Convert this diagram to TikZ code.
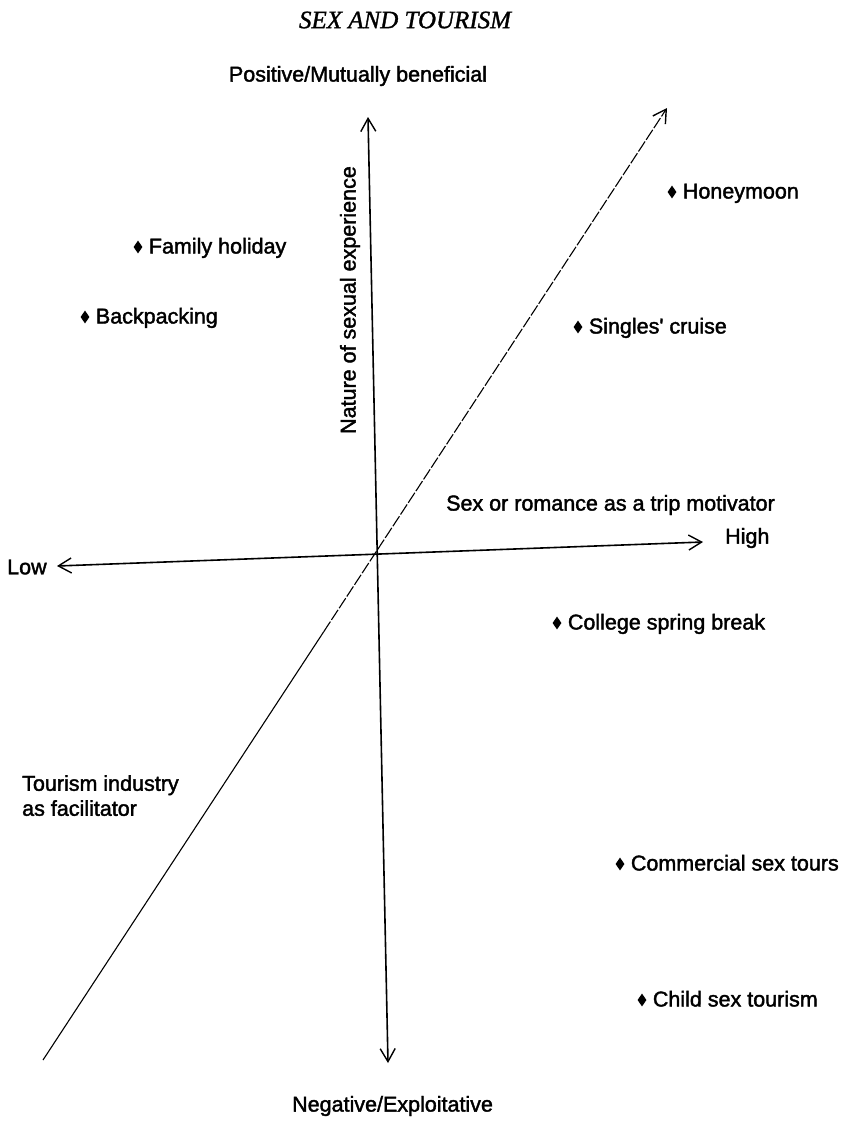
\documentclass[tikz,border=0pt]{standalone}
\usepackage{fontspec}
\setmainfont{Liberation Sans}
\newfontfamily\lblfont{Liberation Sans}[FakeBold=1.8]
\newfontfamily\titlefont{Liberation Serif}[FakeBold=1.2]
\usetikzlibrary{arrows.meta,shapes.geometric,calc}

\tikzset{
  barb/.tip={Straight Barb[length=13pt,width=15pt,line width=1.4pt]},
  axisline/.style={line width=1.6pt},
  diagline/.style={line width=1.1pt},
  lbl/.style={inner sep=0pt, font=\lblfont\fontsize{21.5}{25}\selectfont},
  bulletpt/.style={diamond, fill=black, draw=none, minimum width=9pt,
                   minimum height=13pt, inner sep=0pt},
  itemtext/.style={lbl, anchor=base west, xshift=6pt, yshift=-6.5pt},
}

\begin{document}
\begin{tikzpicture}[x=1pt, y=-1pt]
  \useasboundingbox (0,0) rectangle (846,1122);

  % title
  \node[inner sep=0pt, font=\titlefont\itshape\fontsize{25}{30}\selectfont]
    (title) at (405,20) {SEX AND TOURISM};

  % axis end points
  \coordinate (vtop) at (368,117);
  \coordinate (vbot) at (388,1063);
  \coordinate (hleft) at (57,566);
  \coordinate (hright) at (703,542);
  \coordinate (dbot) at (43,1060);
  \coordinate (dtop) at (667,108);
  \coordinate (dmid) at ($(dbot)!0.45!(dtop)$);

  % nature of sexual experience (vertical)
  \draw[axisline, barb-barb] (vbot) -- (vtop);
  % trip motivator (horizontal)
  \draw[axisline, barb-barb] (hleft) -- (hright);
  % tourism industry as facilitator (diagonal)
  \draw[diagline] (dbot) -- (dmid);
  \draw[diagline, dash pattern=on 12pt off 2pt, -barb] (dmid) -- (dtop);

  % axis labels
  \node[lbl] (pos) at (358,76) {Positive/Mutually beneficial};
  \node[lbl, anchor=west] (neg) at (292,1106) {Negative/Exploitative};
  \node[lbl, rotate=90] (nat) at (350,300) {Nature of sexual experience};
  \node[lbl, anchor=east] (mot) at (775,505) {Sex or romance as a trip motivator};
  \node[lbl, anchor=west] (high) at (725,538) {High};
  \node[lbl, anchor=west] (low) at (7,567) {Low};
  \node[lbl, anchor=north west, align=left] (fac) at (22,775)
    {Tourism industry\\as facilitator};

  % forms of tourism
  \node[bulletpt] (b1) at (672,192) {};
  \node[itemtext] (t1) at (b1.east) {Honeymoon};
  \node[bulletpt] (b2) at (138,247) {};
  \node[itemtext] (t2) at (b2.east) {Family holiday};
  \node[bulletpt] (b3) at (85,317) {};
  \node[itemtext] (t3) at (b3.east) {Backpacking};
  \node[bulletpt] (b4) at (578,327) {};
  \node[itemtext] (t4) at (b4.east) {Singles' cruise};
  \node[bulletpt] (b5) at (557,623) {};
  \node[itemtext] (t5) at (b5.east) {College spring break};
  \node[bulletpt] (b6) at (620,864) {};
  \node[itemtext] (t6) at (b6.east) {Commercial sex tours};
  \node[bulletpt] (b7) at (642,1000) {};
  \node[itemtext] (t7) at (b7.east) {Child sex tourism};
\end{tikzpicture}
\end{document}
